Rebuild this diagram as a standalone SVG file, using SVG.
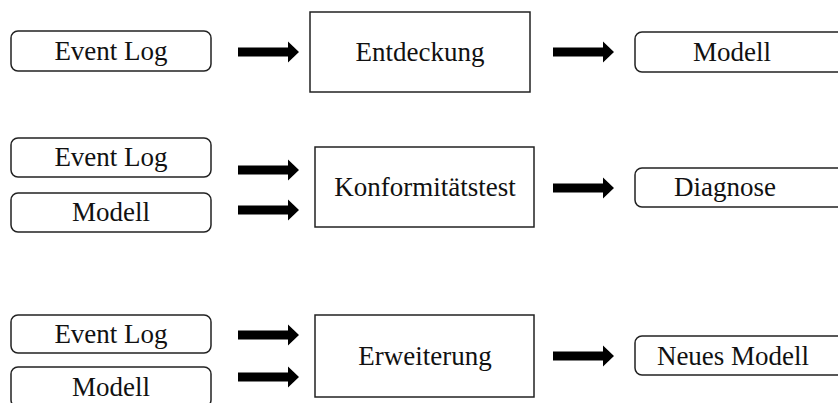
<svg xmlns="http://www.w3.org/2000/svg" width="838" height="403" viewBox="0 0 838 403">
  <defs>
    <!-- block arrow, origin at left end of shaft, centred vertically -->
    <polygon id="blk" fill="#000" points="0,-4.5 50,-4.5 50,-10.5 61,0 50,10.5 50,4.5 0,4.5"/>
  </defs>

  <!-- Row 1: discovery -->
  <g id="r1-log"><rect x="11" y="31" width="200" height="40" rx="7" fill="#fff" stroke="#222" stroke-width="1.5"/><text x="111" y="60" fill="#111" font-size="27" text-anchor="middle" style="font-family:'Liberation Serif',serif">Event Log</text></g>
  <g id="r1-proc"><rect x="310" y="12" width="220" height="80" fill="#fff" stroke="#222" stroke-width="1.5"/><text x="420" y="61" fill="#111" font-size="27" text-anchor="middle" style="font-family:'Liberation Serif',serif">Entdeckung</text></g>
  <g id="r1-out"><rect x="635" y="32" width="210" height="40" rx="7" fill="#fff" stroke="#222" stroke-width="1.5"/><text x="732" y="61" fill="#111" font-size="27" text-anchor="middle" style="font-family:'Liberation Serif',serif">Modell</text></g>

  <!-- Row 2: conformance -->
  <g id="r2-log"><rect x="11" y="138" width="200" height="39" rx="7" fill="#fff" stroke="#222" stroke-width="1.5"/><text x="111" y="166" fill="#111" font-size="27" text-anchor="middle" style="font-family:'Liberation Serif',serif">Event Log</text></g>
  <g id="r2-model"><rect x="11" y="193" width="200" height="39" rx="7" fill="#fff" stroke="#222" stroke-width="1.5"/><text x="111" y="221" fill="#111" font-size="27" text-anchor="middle" style="font-family:'Liberation Serif',serif">Modell</text></g>
  <g id="r2-proc"><rect x="315" y="147" width="219" height="80" fill="#fff" stroke="#222" stroke-width="1.5"/><text x="425" y="196" fill="#111" font-size="27" text-anchor="middle" style="font-family:'Liberation Serif',serif">Konformitätstest</text></g>
  <g id="r2-out"><rect x="635" y="168" width="210" height="39" rx="7" fill="#fff" stroke="#222" stroke-width="1.5"/><text x="725" y="196" fill="#111" font-size="27" text-anchor="middle" style="font-family:'Liberation Serif',serif">Diagnose</text></g>

  <!-- Row 3: enhancement -->
  <g id="r3-log"><rect x="11" y="315" width="200" height="38" rx="7" fill="#fff" stroke="#222" stroke-width="1.5"/><text x="111" y="343" fill="#111" font-size="27" text-anchor="middle" style="font-family:'Liberation Serif',serif">Event Log</text></g>
  <g id="r3-model"><rect x="11" y="367" width="200" height="40" rx="7" fill="#fff" stroke="#222" stroke-width="1.5"/><text x="111" y="396" fill="#111" font-size="27" text-anchor="middle" style="font-family:'Liberation Serif',serif">Modell</text></g>
  <g id="r3-proc"><rect x="315" y="315" width="219" height="82" fill="#fff" stroke="#222" stroke-width="1.5"/><text x="425" y="365" fill="#111" font-size="27" text-anchor="middle" style="font-family:'Liberation Serif',serif">Erweiterung</text></g>
  <g id="r3-out"><rect x="635" y="336" width="210" height="39" rx="7" fill="#fff" stroke="#222" stroke-width="1.5"/><text x="733" y="365" fill="#111" font-size="27" text-anchor="middle" style="font-family:'Liberation Serif',serif">Neues Modell</text></g>

  <g id="connectors">
    <use href="#blk" x="238" y="52"/>
    <use href="#blk" x="553" y="52"/>
    <use href="#blk" x="238" y="170"/>
    <use href="#blk" x="238" y="210"/>
    <use href="#blk" x="553" y="188"/>
    <use href="#blk" x="238" y="335"/>
    <use href="#blk" x="238" y="377"/>
    <use href="#blk" x="553" y="356"/>
  </g>
</svg>
